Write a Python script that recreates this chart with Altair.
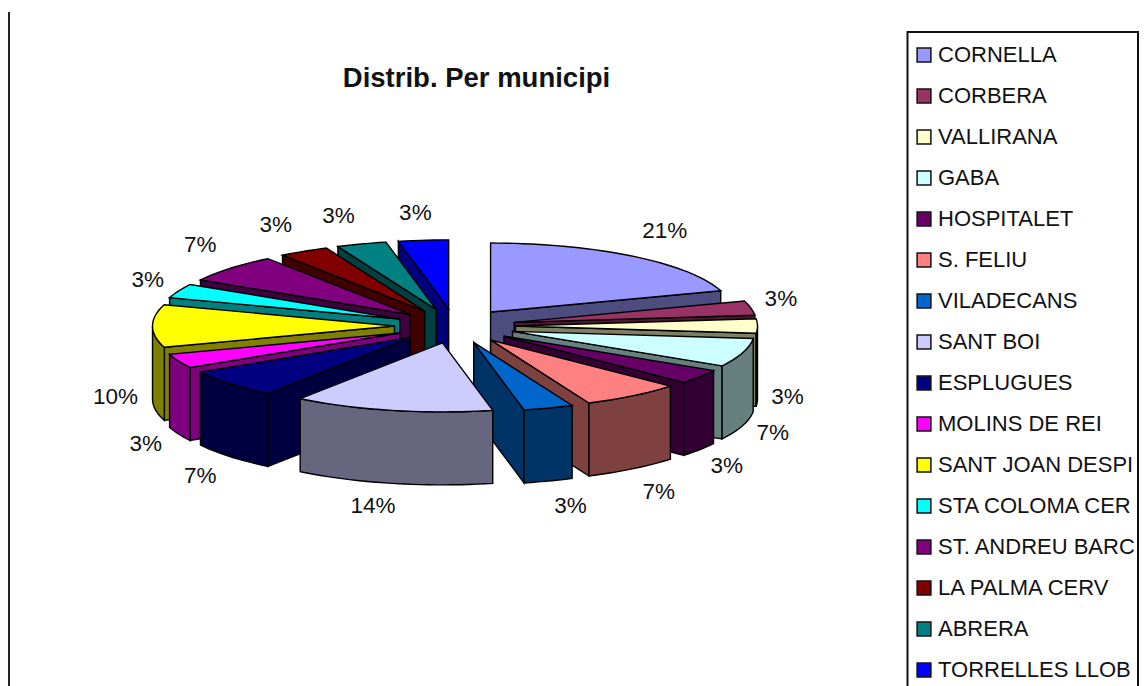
import math
import altair as alt
import pandas as pd

names = ["CORNELLA", "CORBERA", "VALLIRANA", "GABA", "HOSPITALET", "S. FELIU", "VILADECANS", "SANT BOI",
         "ESPLUGUES", "MOLINS DE REI", "SANT JOAN DESPI", "STA COLOMA CER", "ST. ANDREU BARC",
         "LA PALMA CERV", "ABRERA", "TORRELLES LLOB"]
values = [6, 1, 1, 2, 1, 2, 1, 4, 2, 1, 3, 1, 2, 1, 1, 1]
labels = ["21%", "3%", "3%", "7%", "3%", "7%", "3%", "14%", "7%", "3%", "10%", "3%", "7%", "3%", "3%", "3%"]
colors = ["#9999FF", "#993366", "#FFFFCC", "#CCFFFF", "#660066", "#FF8080", "#0066CC", "#CCCCFF",
          "#000080", "#FF00FF", "#FFFF00", "#00FFFF", "#800080", "#800000", "#008080", "#0000FF"]
label_dx = [32, 30, 30, 30, 27, 26, 22, -19, -30, -33, -37, -31, -30, -28, -23, -8]
label_dy = [-25, -9, 71, 80, 89, 96, 98, 96, 92, 83, 71, -11, -23, -26, -28, -27]

CX, CY, RX, RY, DEPTH, EXPLODE = 455, 326, 242, 69, 73, 0.25
W, H = 1131, 678


def dark(c):
    return "#%02X%02X%02X" % tuple(int(c[i:i + 2], 16) // 2 for i in (1, 3, 5))


def ring(angle, k=1.0):
    a = math.radians(angle)
    return RX * k * math.sin(a), -RY * k * math.cos(a)


total = sum(values)
wedges = []
start = 0.0
for i, v in enumerate(values):
    end = start + 360.0 * v / total
    wedges.append((i, start, end, (start + end) / 2))
    start = end

rows = []
pid = 0


def add_poly(points, fill):
    global pid
    for n, (x, y) in enumerate(points):
        rows.append({"poly": f"p{pid:03d}", "pt": n, "x": x, "y": y, "fill": fill})
    pid += 1


def arc(a0, a1, ax, ay, dy=0):
    n = max(2, int((a1 - a0) / 2) + 1)
    pts = []
    for j in range(n + 1):
        px, py = ring(a0 + (a1 - a0) * j / n)
        pts.append((ax + px, ay + py + dy))
    return pts


for i, a0, a1, mid in sorted(wedges, key=lambda w: -math.cos(math.radians(w[3]))):
    ox, oy = ring(mid, EXPLODE)
    ax, ay = CX + ox, CY + oy
    c = colors[i]
    s = dark(c)
    for ang, vis in ((a0, math.sin(math.radians(a0)) < -1e-6), (a1, math.sin(math.radians(a1)) > 1e-6)):
        if vis:
            px, py = ring(ang)
            add_poly([(ax, ay), (ax + px, ay + py), (ax + px, ay + py + DEPTH), (ax, ay + DEPTH)], s)
    r0, r1 = max(a0, 90), min(a1, 270)
    if r1 > r0:
        top = arc(r0, r1, ax, ay)
        add_poly(top + arc(r0, r1, ax, ay, DEPTH)[::-1], s)
    add_poly([(ax, ay)] + arc(a0, a1, ax, ay), c)

polys = pd.DataFrame(rows)

lab_rows = []
for i, a0, a1, mid in wedges:
    px, py = ring(mid, 1 + EXPLODE)
    lab_rows.append({"x": CX + px + label_dx[i], "y": CY + py + label_dy[i], "t": labels[i]})
labs = pd.DataFrame(lab_rows)

xs = alt.Scale(domain=[8, 8 + W], range=[0, W], nice=False, zero=False)
ys = alt.Scale(domain=[8, 8 + H], range=[0, H], nice=False, zero=False)

poly_layer = alt.Chart(polys).mark_line(stroke="black", strokeWidth=1.4, interpolate="linear-closed").encode(
    x=alt.X("x:Q", scale=xs, axis=None),
    y=alt.Y("y:Q", scale=ys, axis=None),
    detail="poly:N",
    order="pt:Q",
    fill=alt.Fill("fill:N", scale=None),
)

text_layer = alt.Chart(labs).mark_text(font="Liberation Sans", fontSize=22.5, color="#111111",
                                       align="center", baseline="middle").encode(
    x=alt.X("x:Q", scale=xs, axis=None),
    y=alt.Y("y:Q", scale=ys, axis=None),
    text="t:N",
)

legend_layer = alt.Chart(pd.DataFrame({"name": names})).mark_square(filled=True, size=0).encode(
    x=alt.value(10),
    y=alt.value(10),
    color=alt.Color(
        "name:N",
        scale=alt.Scale(domain=names, range=colors),
        legend=alt.Legend(
            orient="none", legendX=905, legendY=36, title=None,
            padding=0, direction="vertical",
            symbolType="square", symbolSize=190, symbolStrokeColor="#111111", symbolStrokeWidth=1.5,
            labelFont="Liberation Sans", labelFontSize=22, labelColor="#111111", labelLimit=260,
            rowPadding=19, labelOffset=3, symbolOpacity=1, columns=1,
        ),
    ),
)

frame_layer = alt.Chart(pd.DataFrame({"k": [0]})).mark_rect(fill="white", stroke="#111111", strokeWidth=2).encode(
    x=alt.value(899.5), x2=alt.value(1130), y=alt.value(24), y2=alt.value(H + 30)
)

rule_layer = alt.Chart(pd.DataFrame({"k": [0]})).mark_rule(color="#222222", strokeWidth=2).encode(
    x=alt.value(1), y=alt.value(4), y2=alt.value(H)
)

chart = alt.layer(rule_layer, frame_layer, poly_layer, text_layer, legend_layer).properties(
    width=W, height=H, padding=0, autosize=alt.AutoSizeParams(type="none"),
    title=alt.TitleParams("Distrib. Per municipi", anchor="middle", dx=-97, dy=106, offset=0,
                          baseline="alphabetic", font="Liberation Sans", fontSize=27.5, fontWeight="bold",
                          color="#111111"),
).configure_view(stroke=None)

chart.save("out.html", embed_options={"renderer": "svg", "actions": False})
